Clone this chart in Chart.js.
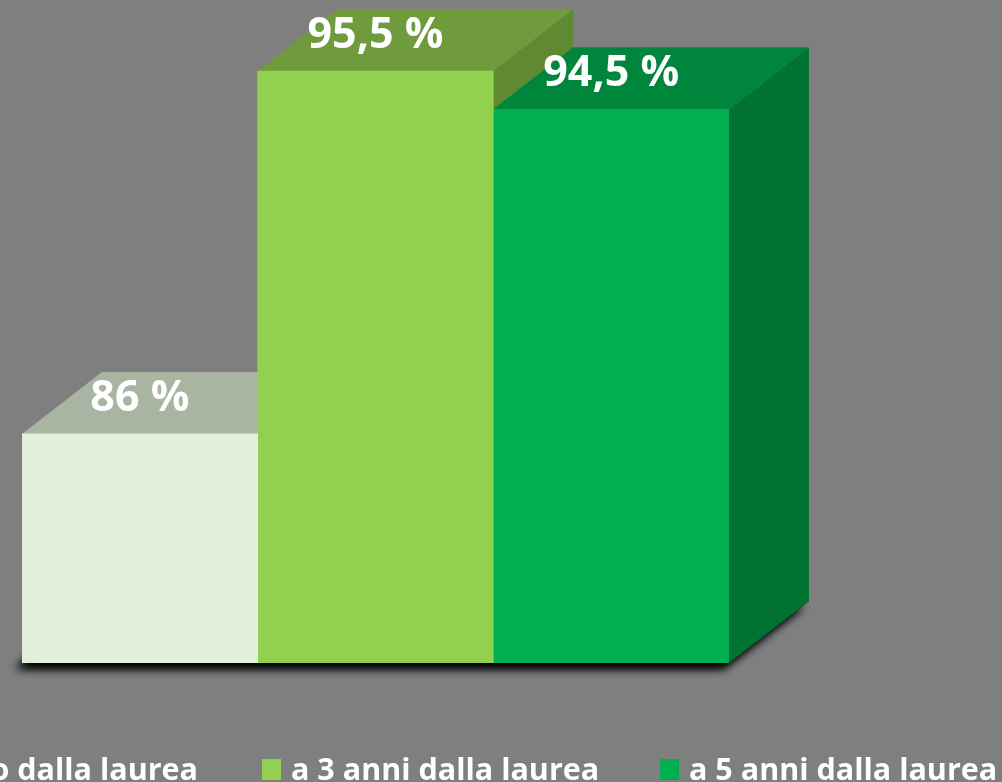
<!DOCTYPE html>
<html>
<head>
<meta charset="utf-8">
<script src="https://cdn.jsdelivr.net/npm/chart.js@4/dist/chart.umd.min.js"></script>
<style>
  html, body { margin: 0; padding: 0; background: #7f7f7f; overflow: hidden; }
  #chart { display: block; }
</style>
</head>
<body>
<canvas id="chart" width="1002" height="782"></canvas>
<script>
const categories = ["Occupati"];
const seriesLabels = ["a 1 anno dalla laurea", "a 3 anni dalla laurea", "a 5 anni dalla laurea"];
const seriesValues = [[86], [95.5], [94.5]];
const frontColors = ["#e2efda", "#92d050", "#00b050"];
const topColors = ["#a9b5a3", "#6f9b3d", "#00853c"];
const sideColors = ["#97a392", "#5f8a33", "#007231"];

const DEPTH_X = 80;
const DEPTH_Y = -62;

// facce superiori e laterali + ombra, prima che Chart.js disegni il fronte
const box3d = {
  id: "box3d",
  beforeDatasetsDraw(chart) {
    const ctx = chart.ctx;
    const bars = chart.data.datasets.map((_, i) => chart.getDatasetMeta(i).data[0]);
    const left = bars[0].x - bars[0].width / 2;
    const last = bars[bars.length - 1];
    const right = last.x + last.width / 2;
    const base = chart.chartArea.bottom; // l'asse parte da 80, non da 0

    ctx.save();
    ctx.shadowColor = "rgba(0,0,0,0.95)";
    ctx.shadowBlur = 10;
    ctx.shadowOffsetX = -6;
    ctx.shadowOffsetY = 5;
    ctx.fillStyle = "#222";
    ctx.beginPath();
    ctx.moveTo(left, base);
    ctx.lineTo(right, base);
    ctx.lineTo(right + DEPTH_X, base + DEPTH_Y);
    ctx.lineTo(left + DEPTH_X, base + DEPTH_Y);
    ctx.closePath();
    ctx.fill();
    ctx.fill();
    ctx.restore();

    bars.forEach((bar, i) => {
      const x0 = bar.x - bar.width / 2;
      const x1 = bar.x + bar.width / 2;
      const top = bar.y;
      ctx.save();
      ctx.fillStyle = sideColors[i];
      ctx.beginPath();
      ctx.moveTo(x1, top);
      ctx.lineTo(x1 + DEPTH_X, top + DEPTH_Y);
      ctx.lineTo(x1 + DEPTH_X, base + DEPTH_Y);
      ctx.lineTo(x1, base);
      ctx.closePath();
      ctx.fill();
      ctx.fillStyle = topColors[i];
      ctx.beginPath();
      ctx.moveTo(x0, top);
      ctx.lineTo(x1, top);
      ctx.lineTo(x1 + DEPTH_X, top + DEPTH_Y);
      ctx.lineTo(x0 + DEPTH_X, top + DEPTH_Y);
      ctx.closePath();
      ctx.fill();
      ctx.restore();
    });
  },
  afterDatasetsDraw(chart) {
    const ctx = chart.ctx;
    ctx.save();
    ctx.fillStyle = "#ffffff";
    ctx.font = "bold 43px 'Open Sans'";
    ctx.textAlign = "center";
    ctx.textBaseline = "alphabetic";
    chart.data.datasets.forEach((ds, i) => {
      const bar = chart.getDatasetMeta(i).data[0];
      const txt = ds.data[0].toLocaleString("it-IT") + " %";
      ctx.fillText(txt, bar.x, bar.y - 23);
    });
    ctx.restore();
  },
  afterDraw(chart) {
    // legenda in basso, tagliata a sinistra come nell'originale
    const ctx = chart.ctx;
    ctx.save();
    ctx.font = "bold 30.5px 'Open Sans'";
    ctx.textBaseline = "alphabetic";
    chart.data.datasets.forEach((ds, i) => {
      let tx = 262 + (i - 1) * 398 + 29;
      if (i === 0) tx = 198 - ctx.measureText(ds.label).width;
      ctx.fillStyle = ds.backgroundColor;
      ctx.fillRect(tx - 29, 759, 19, 21);
      ctx.fillStyle = "#ffffff";
      ctx.fillText(ds.label, tx, 780);
    });
    ctx.restore();
  },
};

new Chart(document.getElementById("chart"), {
  type: "bar",
  data: {
    labels: categories,
    datasets: seriesLabels.map((label, i) => ({
      label: label,
      data: seriesValues[i],
      backgroundColor: frontColors[i],
      borderWidth: 0,
      categoryPercentage: 1,
      barPercentage: 1,
    })),
  },
  options: {
    responsive: false,
    animation: false,
    devicePixelRatio: 1,
    layout: { padding: { left: 22, right: 273, top: 52, bottom: 119 } },
    scales: {
      x: { display: false },
      y: { display: false, min: 80, max: 96 },
    },
    plugins: { legend: { display: false }, tooltip: { enabled: false } },
  },
  plugins: [box3d],
});
</script>
</body>
</html>
